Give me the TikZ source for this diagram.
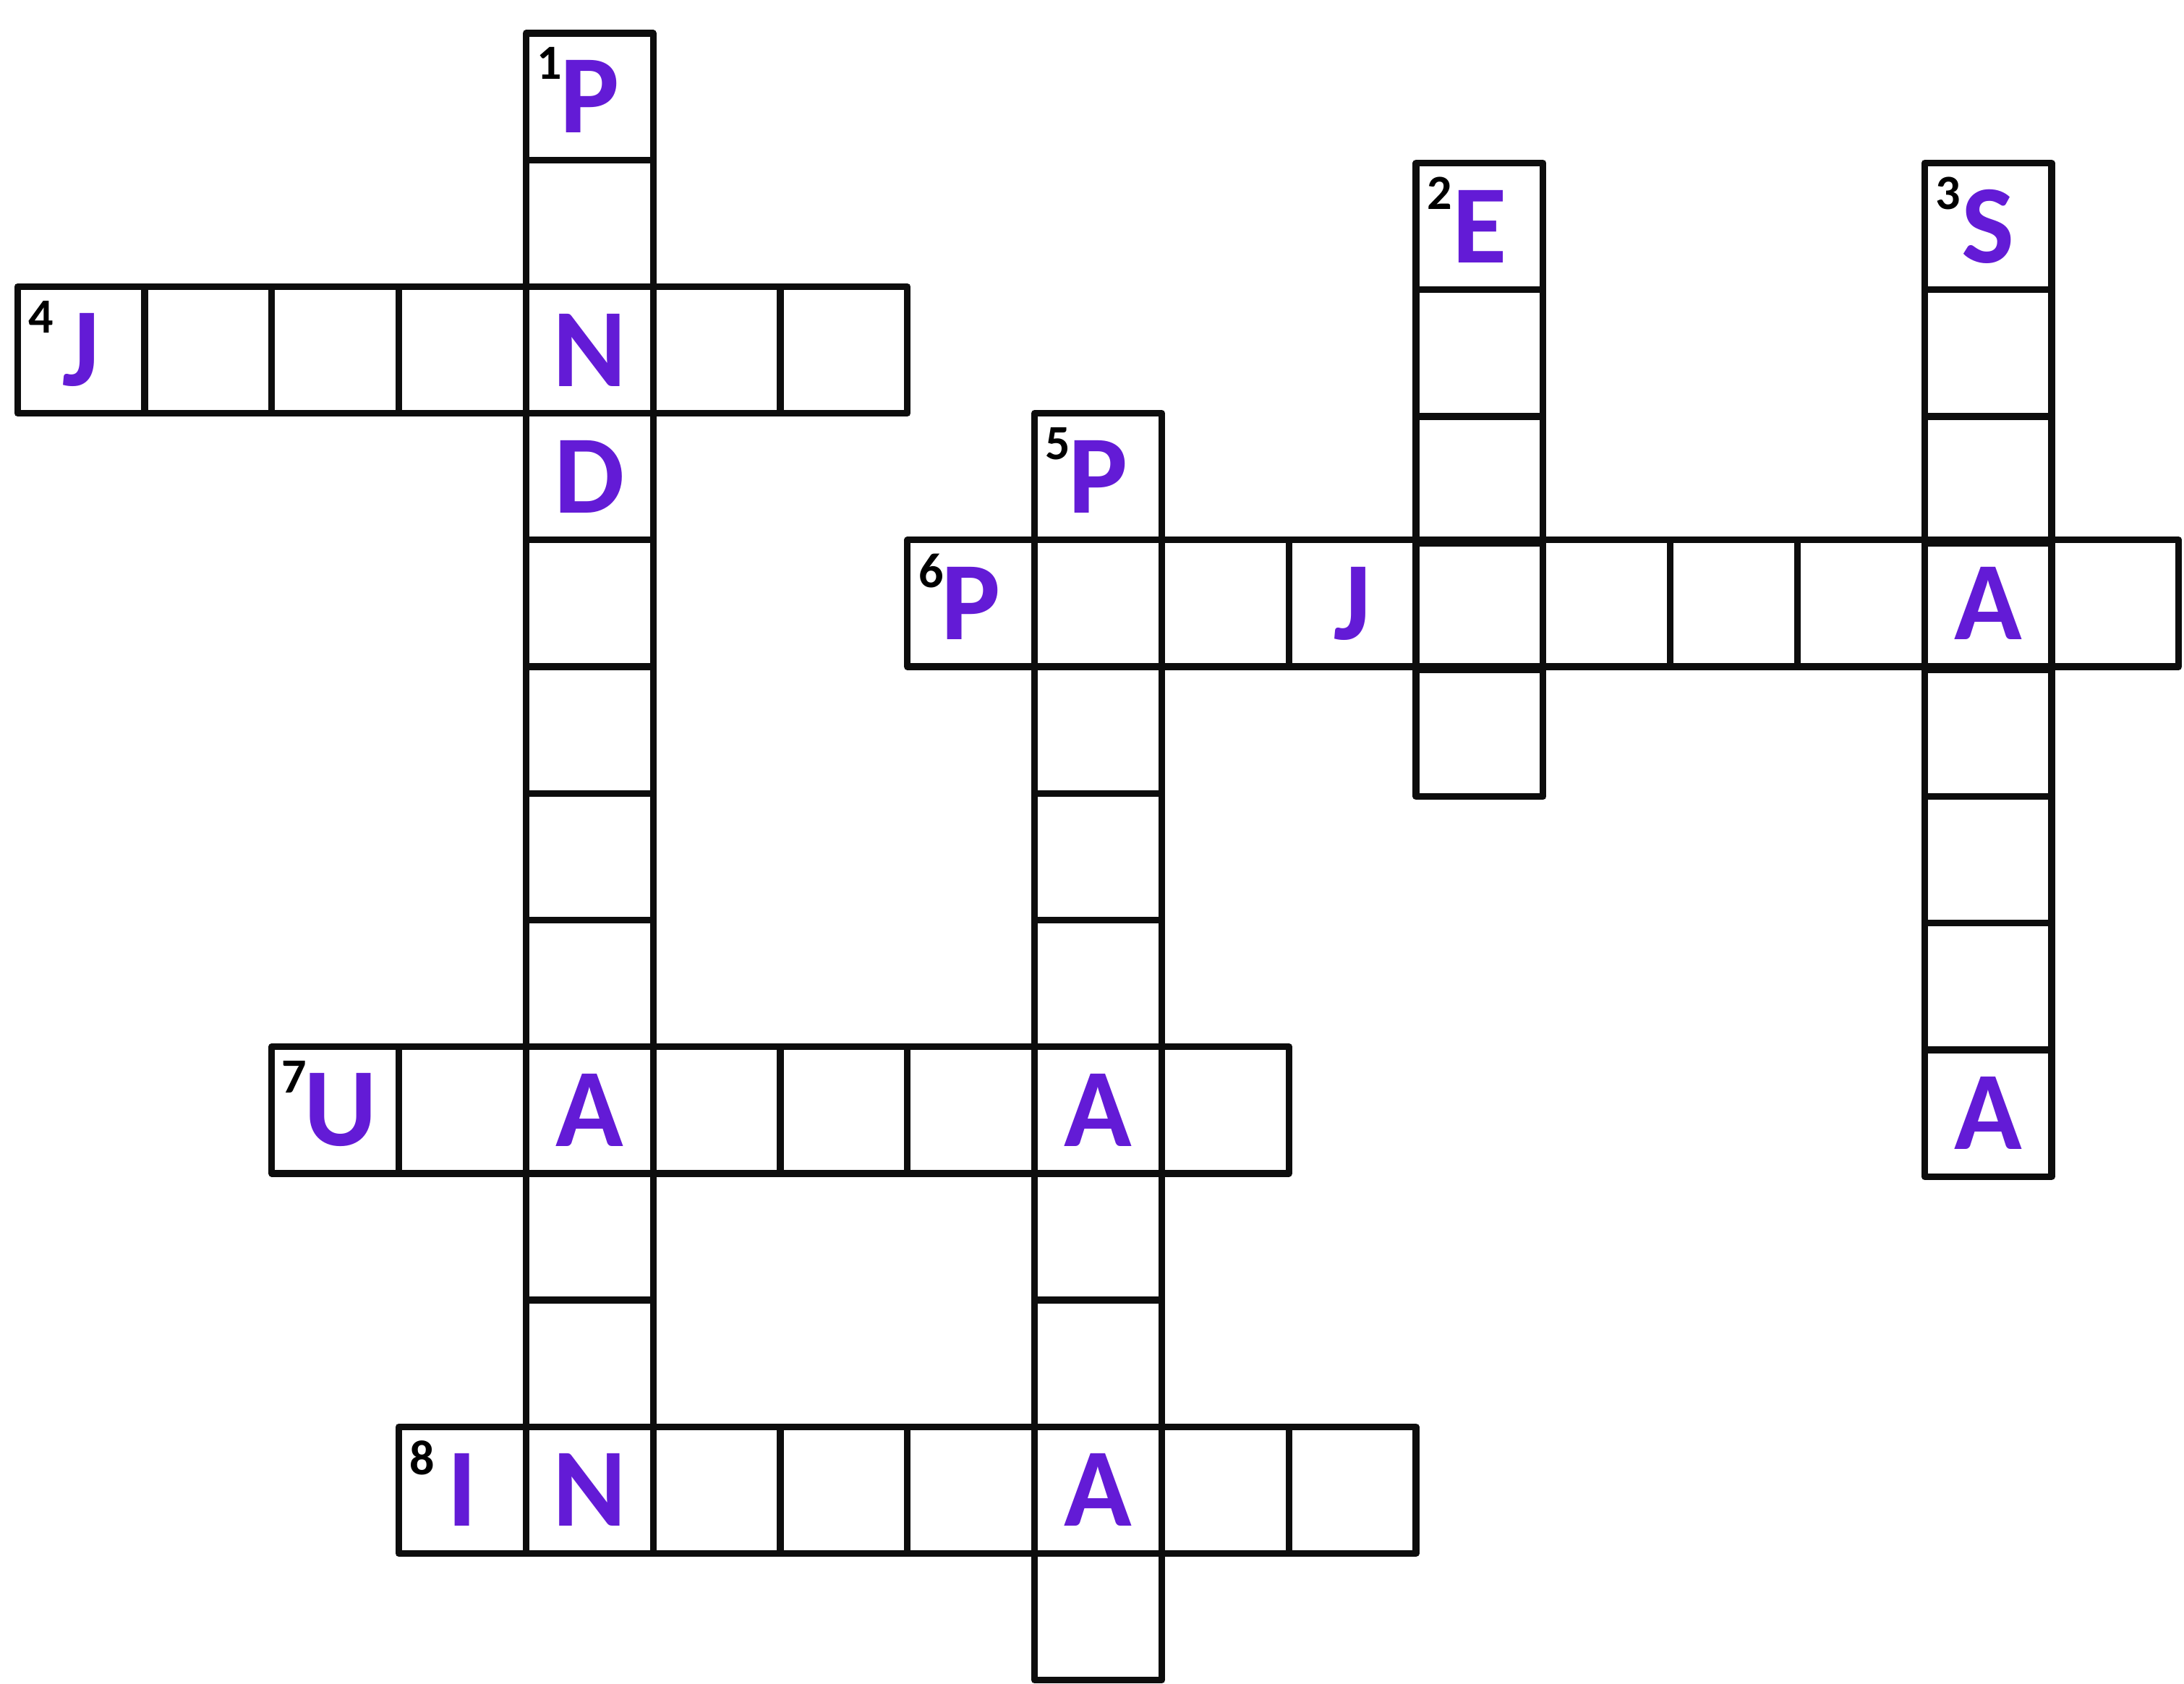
\documentclass[tikz,border=0pt]{standalone}
\usepackage{fontspec}
\setmainfont{Carlito}
\definecolor{clue}{RGB}{99,27,214}
\definecolor{ink}{RGB}{13,13,13}

\begin{document}
\begin{tikzpicture}[y=0.9966cm,
    sq/.style={draw=ink,line width=1.5pt,line join=round,rectangle,minimum width=1cm,minimum height=0.9966cm,inner sep=0pt,outer sep=0pt},
    lt/.style={text=clue,inner sep=0pt,font=\bfseries\fontsize{25}{25}\selectfont},
    num/.style={anchor=north west,inner sep=0pt,font=\bfseries\fontsize{11}{11}\selectfont}]
    \useasboundingbox (-0.1377,0.2626) rectangle (17.041,-13.0251);

    % down words
    \foreach \r in {0,...,11} \node[sq] (s4-\r) at (4.5,-\r-0.5) {};
    \foreach \r in {1,...,5} \node[sq,yshift=-0.025cm] (s11-\r) at (11.5,-\r-0.5) {};
    \foreach \r in {1,...,8} \node[sq,yshift=-0.025cm] (s15-\r) at (15.5,-\r-0.5) {};
    \foreach \r in {3,...,12} \node[sq] (s8-\r) at (8.5,-\r-0.5) {};
    % across words
    \foreach \c in {0,...,6} \node[sq] (s\c-2) at (\c+0.5,-2.5) {};
    \foreach \c in {7,...,16} \node[sq] (s\c-4) at (\c+0.5,-4.5) {};
    \foreach \c in {2,...,9} \node[sq] (s\c-8) at (\c+0.5,-8.5) {};
    \foreach \c in {3,...,10} \node[sq] (s\c-11) at (\c+0.5,-11.5) {};

    % numbers
    \node[num] (n1) at ([shift={(0.08,-0.105)}]s4-0.north west) {1};
    \node[num] (n2) at ([shift={(0.08,-0.105)}]s11-1.north west) {2};
    \node[num] (n3) at ([shift={(0.08,-0.105)}]s15-1.north west) {3};
    \node[num] (n4) at ([shift={(0.08,-0.105)}]s0-2.north west) {4};
    \node[num] (n5) at ([shift={(0.08,-0.105)}]s8-3.north west) {5};
    \node[num] (n6) at ([shift={(0.08,-0.105)}]s7-4.north west) {6};
    \node[num] (n7) at ([shift={(0.07,-0.105)}]s2-8.north west) {7};
    \node[num] (n8) at ([shift={(0.08,-0.105)}]s3-11.north west) {8};

    % given letters
    \node[lt] (lP1) at (s4-0) {P};
    \node[lt] (lN1) at (s4-2) {N};
    \node[lt] (lD1) at (s4-3) {D};
    \node[lt] (lA1) at (s4-8) {A};
    \node[lt] (lN2) at (s4-11) {N};
    \node[lt] (lE2) at (s11-1) {E};
    \node[lt] (lS3) at (s15-1) {S};
    \node[lt] (lA3) at (s15-4) {A};
    \node[lt] (lA4) at (s15-8) {A};
    \node[lt] (lJ4) at (s0-2) {J};
    \node[lt] (lP5) at (s8-3) {P};
    \node[lt] (lA5) at (s8-8) {A};
    \node[lt] (lA6) at (s8-11) {A};
    \node[lt] (lP6) at (s7-4) {P};
    \node[lt] (lJ6) at (s10-4) {J};
    \node[lt,xshift=0.04cm] (lU7) at (s2-8) {U};
    \node[lt] (lI8) at (s3-11) {I};
\end{tikzpicture}
\end{document}
